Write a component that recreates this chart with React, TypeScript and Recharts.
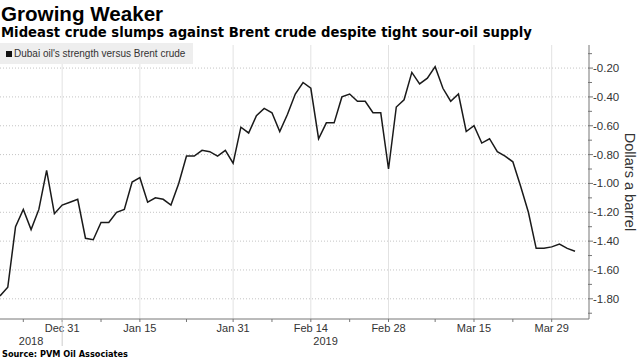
import { LineChart, Line, XAxis, YAxis, CartesianGrid, Legend } from 'recharts';

// trading days shown on the chart
const dates = [
  'Dec 18', 'Dec 19', 'Dec 20', 'Dec 21', 'Dec 24', 'Dec 26', 'Dec 27', 'Dec 28', 'Dec 31',
  'Jan 2', 'Jan 3', 'Jan 4', 'Jan 7', 'Jan 8', 'Jan 9', 'Jan 10', 'Jan 11', 'Jan 14', 'Jan 15',
  'Jan 16', 'Jan 17', 'Jan 18', 'Jan 21', 'Jan 22', 'Jan 23', 'Jan 24', 'Jan 25', 'Jan 28', 'Jan 29', 'Jan 30', 'Jan 31',
  'Feb 1', 'Feb 4', 'Feb 5', 'Feb 6', 'Feb 7', 'Feb 8', 'Feb 11', 'Feb 12', 'Feb 13', 'Feb 14',
  'Feb 15', 'Feb 18', 'Feb 19', 'Feb 20', 'Feb 21', 'Feb 22', 'Feb 25', 'Feb 26', 'Feb 27', 'Feb 28',
  'Mar 1', 'Mar 4', 'Mar 5', 'Mar 6', 'Mar 7', 'Mar 8', 'Mar 11', 'Mar 12', 'Mar 13', 'Mar 14', 'Mar 15',
  'Mar 18', 'Mar 19', 'Mar 20', 'Mar 21', 'Mar 22', 'Mar 25', 'Mar 26', 'Mar 27', 'Mar 28', 'Mar 29',
  'Apr 1', 'Apr 2', 'Apr 3',
];

// Dubai oil's strength versus Brent crude, $/bbl
const spread = [
  -1.78, -1.72, -1.30, -1.18, -1.32, -1.18, -0.91, -1.21, -1.15,
  -1.13, -1.11, -1.38, -1.39, -1.27, -1.27, -1.20, -1.18, -0.99, -0.96,
  -1.13, -1.10, -1.11, -1.15, -1.00, -0.81, -0.81, -0.77, -0.78, -0.81, -0.77, -0.86,
  -0.61, -0.65, -0.53, -0.48, -0.51, -0.64, -0.52, -0.38, -0.30, -0.34,
  -0.69, -0.58, -0.58, -0.40, -0.38, -0.43, -0.43, -0.51, -0.51, -0.90,
  -0.47, -0.42, -0.23, -0.31, -0.27, -0.19, -0.34, -0.43, -0.38, -0.64, -0.60,
  -0.72, -0.69, -0.78, -0.81, -0.85, -1.02, -1.20, -1.45, -1.45, -1.44,
  -1.42, -1.45, -1.47,
];

const tickLabels = ['Dec 31', 'Jan 15', 'Jan 31', 'Feb 14', 'Feb 28', 'Mar 15', 'Mar 29'];
const years = ['2018', '2019'];
const yTicks = [-1.9, -1.8, -1.7, -1.6, -1.5, -1.4, -1.3, -1.2, -1.1, -1.0, -0.9, -0.8, -0.7, -0.6, -0.5, -0.4, -0.3, -0.2, -0.1];
const yMajor = [-1.8, -1.6, -1.4, -1.2, -1.0, -0.8, -0.6, -0.4, -0.2];

const data = spread.map((v, i) => ({ i, date: dates[i], v }));
const majorIdx = tickLabels.map((l) => dates.indexOf(l));
const minorIdx = [majorIdx[0] - 5, ...majorIdx.slice(1).map((m, k) => Math.round((m + majorIdx[k]) / 2))];
const xTicks = [...majorIdx, ...minorIdx].sort((a, b) => a - b);

const W = 640;
const H = 360;
const PLOT_RIGHT = 589;
const AXIS = '#777';
const TXT = '#333';
const SANS = "'Liberation Sans', Arial, sans-serif";

const XTick = (props: any) => {
  const { x, y, payload } = props;
  const k = majorIdx.indexOf(payload.value);
  return (
    <g>
      <line x1={x} x2={x} y1={y} y2={y + 3} stroke={AXIS} />
      {k >= 0 && (
        <text x={x} y={y + 13} textAnchor="middle" fontSize={11} fill={TXT} fontFamily={SANS}>
          {tickLabels[k]}
        </text>
      )}
      {k === 0 && (
        <g>
          <line x1={x} x2={x} y1={y} y2={y + 27} stroke="#ccc" />
          <text x={x / 2} y={y + 26} textAnchor="middle" fontSize={11} fill={TXT} fontFamily={SANS}>
            {years[0]}
          </text>
          <text x={(x + PLOT_RIGHT) / 2} y={y + 26} textAnchor="middle" fontSize={11} fill={TXT} fontFamily={SANS}>
            {years[1]}
          </text>
        </g>
      )}
    </g>
  );
};

const YTick = (props: any) => {
  const { x, y, payload } = props;
  const major = Math.abs(Math.round(payload.value * 10)) % 2 === 0;
  return (
    <g>
      <line x1={x - 1} x2={x + (major ? 4 : 3)} y1={y} y2={y} stroke={AXIS} />
      {major && (
        <text x={x + 4} y={y + 4} textAnchor="start" fontSize={11.5} fill={TXT} fontFamily={SANS}>
          {payload.value.toFixed(2)}
        </text>
      )}
    </g>
  );
};

const AxisTitle = (props: any) => {
  const vb = props.viewBox || { x: PLOT_RIGHT, y: 45, width: 51, height: 274 };
  const cx = vb.x + 36;
  const cy = vb.y + vb.height / 2;
  return (
    <text x={cx} y={cy} transform={`rotate(90, ${cx}, ${cy})`} textAnchor="middle" fontSize={14.5} fill={TXT} fontFamily={SANS}>
      Dollars a barrel
    </text>
  );
};

const LegendBox = () => (
  <div style={{ background: '#eeeeee', height: 21, width: 193, display: 'flex', alignItems: 'center', boxSizing: 'border-box', paddingLeft: 6 }}>
    <span style={{ width: 6, height: 6, background: '#111', display: 'inline-block', marginRight: 2 }} />
    <span style={{ fontSize: 10, color: TXT, fontFamily: SANS, whiteSpace: 'nowrap' }}>
      Dubai oil's strength versus Brent crude
    </span>
  </div>
);

export default function App() {
  return (
    <div style={{ position: 'absolute', left: 0, top: 0, width: W, height: H, background: '#fff', overflow: 'hidden' }}>
      <div style={{ position: 'absolute', left: 1, top: 3.7, fontSize: 20.6, lineHeight: 1, fontWeight: 'bold', color: '#000', fontFamily: SANS, zIndex: 2 }}>
        Growing Weaker
      </div>
      <div style={{ position: 'absolute', left: 1, top: 25.6, fontSize: 13.2, lineHeight: 1, fontWeight: 'bold', color: '#000', fontFamily: "'DejaVu Sans', sans-serif", whiteSpace: 'nowrap', zIndex: 2 }}>
        Mideast crude slumps against Brent crude despite tight sour-oil supply
      </div>
      <LineChart width={W} height={H} data={data} margin={{ top: 45, right: 0, bottom: 0, left: 0 }}>
        <CartesianGrid horizontal={false} verticalValues={majorIdx} stroke="#e2e2e2" />
        <CartesianGrid vertical={false} horizontalValues={yMajor} stroke="#c4c4c4" strokeDasharray="1 2" />
        <XAxis
          dataKey="i"
          type="number"
          domain={[0, 75.8]}
          ticks={xTicks}
          interval={0}
          allowDataOverflow
          height={41}
          tickSize={0}
          tickMargin={0}
          stroke={AXIS}
          tick={<XTick />}
        />
        <YAxis
          orientation="right"
          type="number"
          domain={[-1.94, -0.04]}
          ticks={yTicks}
          interval={0}
          allowDataOverflow
          width={51}
          tickSize={0}
          tickMargin={0}
          stroke={AXIS}
          tick={<YTick />}
          label={{ content: <AxisTitle /> }}
        />
        <Legend content={<LegendBox />} verticalAlign="middle" layout="horizontal" wrapperStyle={{ top: 43, left: 0, width: 193 }} />
        <Line type="linear" dataKey="v" stroke="#1a1a1a" strokeWidth={1.5} dot={false} isAnimationActive={false} />
      </LineChart>
      <div style={{ position: 'absolute', left: 2, top: 350, fontSize: 8.2, lineHeight: 1, fontWeight: 'bold', color: '#000', fontFamily: "'DejaVu Sans', sans-serif", whiteSpace: 'nowrap' }}>
        Source: PVM Oil Associates
      </div>
    </div>
  );
}
